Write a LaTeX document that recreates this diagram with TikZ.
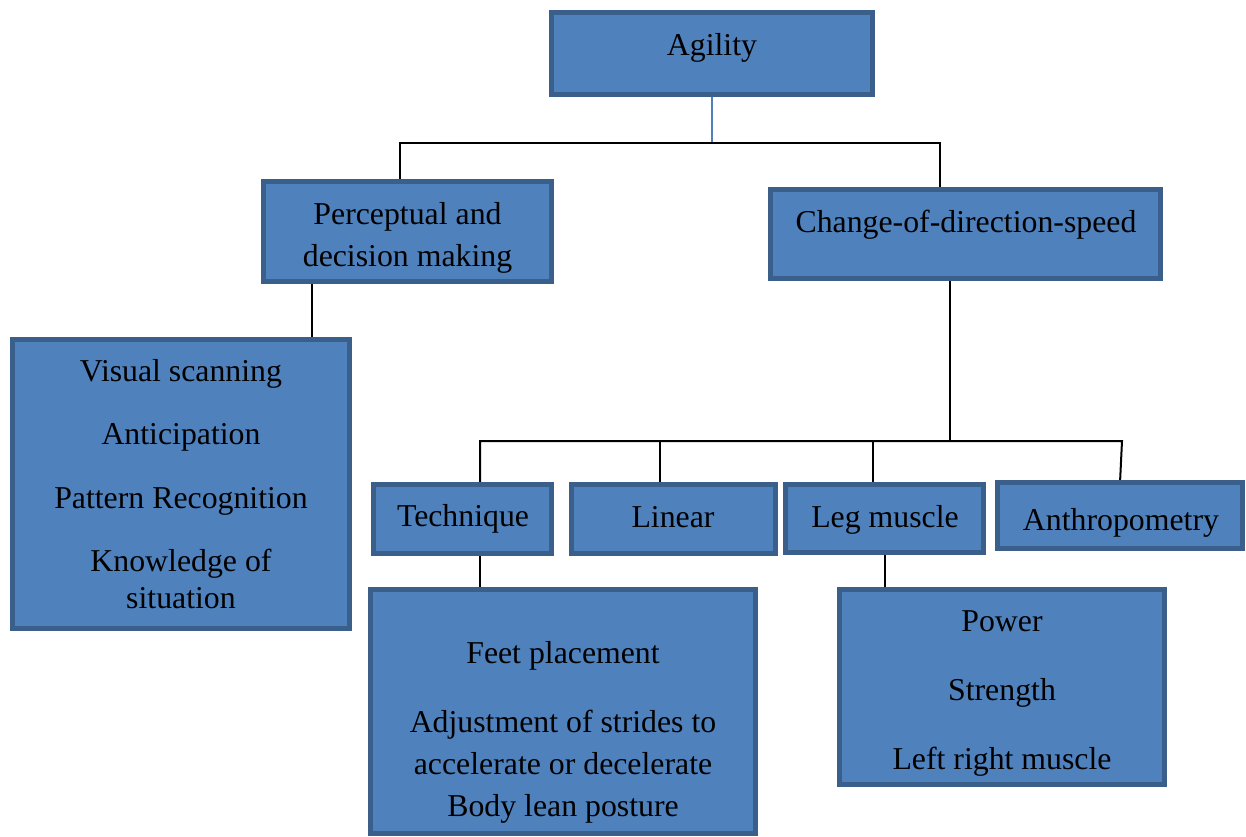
\documentclass[tikz,border=0pt]{standalone}
\usepackage{fontspec}
\setmainfont{Liberation Serif}
\usetikzlibrary{backgrounds}
\definecolor{boxfill}{HTML}{4F81BD}
\definecolor{boxline}{HTML}{3A5F8B}
\begin{document}
\begin{tikzpicture}[x=1pt,y=-1pt,
  box/.style={draw=boxline,fill=boxfill,line width=5pt,rectangle,inner sep=0pt,outer sep=0pt},
  txt/.style={anchor=base,inner sep=0pt,yshift=-1.5pt,font=\fontsize{31.8}{38}\selectfont},
  conn/.style={draw=black,line width=2pt},
  bconn/.style={draw=boxfill,line width=1.8pt}]
\useasboundingbox (0,0) rectangle (1246,836);
% boxes
\node[box,minimum width=321pt,minimum height=82pt] (agility) at (712,53.5) {};
\node[box,minimum width=288pt,minimum height=100pt] (percep) at (407.5,231.5) {};
\node[box,minimum width=390pt,minimum height=89pt] (change) at (965.5,234) {};
\node[box,minimum width=337pt,minimum height=289pt] (visual) at (181,484) {};
\node[box,minimum width=178pt,minimum height=69pt] (tech) at (462.5,519) {};
\node[box,minimum width=204pt,minimum height=69pt] (linear) at (673.5,519) {};
\node[box,minimum width=198pt,minimum height=68pt] (leg) at (884.5,518.5) {};
\node[box,minimum width=245pt,minimum height=66pt] (anthro) at (1120,515.5) {};
\node[box,minimum width=385pt,minimum height=244pt] (feet) at (563,711.5) {};
\node[box,minimum width=325pt,minimum height=195pt] (power) at (1002,687) {};
% texts
\node[txt] (tAgility) at (712,54) {Agility};
\node[txt] (tPercep1) at (407.5,223) {Perceptual and};
\node[txt] (tPercep2) at (407.5,265) {decision making};
\node[txt] (tChange) at (966,231) {Change-of-direction-speed};
\node[txt] (tVis1) at (181,380) {Visual scanning};
\node[txt] (tVis2) at (181,443) {Anticipation};
\node[txt] (tVis3) at (181,507) {Pattern Recognition};
\node[txt] (tVis4) at (181,570) {Knowledge of};
\node[txt] (tVis5) at (181,607) {situation};
\node[txt] (tTech) at (463,525) {Technique};
\node[txt] (tLinear) at (673,526) {Linear};
\node[txt] (tLeg) at (885,526) {Leg muscle};
\node[txt] (tAnthro) at (1121,529) {Anthropometry};
\node[txt] (tFeet1) at (563,662) {Feet placement};
\node[txt] (tFeet2) at (563,731) {Adjustment of strides to};
\node[txt] (tFeet3) at (563,773) {accelerate or decelerate};
\node[txt] (tFeet4) at (563,815) {Body lean posture};
\node[txt] (tPow1) at (1002,630) {Power};
\node[txt] (tPow2) at (1002,699) {Strength};
\node[txt] (tPow3) at (1002,768) {Left right muscle};
% connectors
\coordinate (j1) at (712,143);
\coordinate (j2) at (950,441);
\coordinate (j3) at (1122,441);
\begin{scope}[on background layer]
\fill[white] (0,0) rectangle (1246,836);
\draw[bconn] (agility.south) -- (j1);
\draw[conn] ([xshift=-7.5pt]percep.north) |- (j1) -| ([xshift=-25.5pt]change.north);
\draw[conn] ([xshift=-95.5pt]percep.south) -- ([xshift=-95.5pt]percep.south |- visual.north);
\draw[conn] ([xshift=-15.5pt]change.south) -- (j2);
\draw[conn] ([xshift=17.5pt]tech.north) |- (j3) -- (anthro.north);
\draw[conn] ([xshift=-13.5pt]linear.north) -- ([xshift=-13.5pt]linear.north |- j2);
\draw[conn] ([xshift=-11.5pt]leg.north) -- ([xshift=-11.5pt]leg.north |- j2);
\draw[conn] ([xshift=17.5pt]tech.south) -- ([xshift=17.5pt]tech.south |- feet.north);
\draw[conn] ([xshift=0.5pt]leg.south) -- ([xshift=0.5pt]leg.south |- power.north);
\end{scope}
\end{tikzpicture}
\end{document}
